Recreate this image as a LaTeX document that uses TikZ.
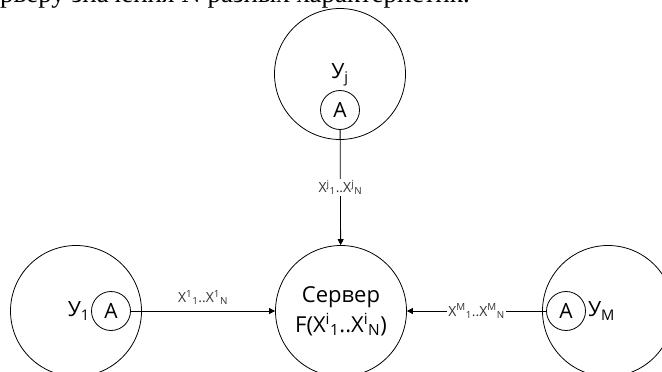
\documentclass[tikz,border=0pt]{standalone}
\usepackage{fontspec}
\setmainfont{Liberation Serif}
\newfontfamily\diagfont{Open Sans}
\usetikzlibrary{arrows.meta, positioning}

\begin{document}
\begin{tikzpicture}[x=1pt, y=-1pt,
    usercircle/.style={circle, draw, line width=0.8pt, minimum size=131pt, inner sep=0pt},
    agent/.style={circle, draw, line width=0.8pt, minimum size=39pt, inner sep=0pt, font=\diagfont\fontsize{21}{24}\selectfont},
    caption/.style={inner sep=0pt, font=\diagfont\fontsize{21}{24}\selectfont},
    flowlabel/.style={inner sep=1pt, text=black!80, font=\diagfont\fontsize{14}{16}\selectfont},
    arrow/.style={-{Triangle[length=6pt, width=6pt]}, line width=0.8pt}
]
\useasboundingbox (0,0) rectangle (662,372);
\clip (0,0) rectangle (662,372);

\node[anchor=base west, inner sep=0pt, font=\fontsize{27}{30}\selectfont] (heading) at (0,2) {рверу значения N разных характеристик.};

\node[usercircle] (userj) at (340,74) {};
\node[agent] (aj) at (340,110) {A};
\node[caption, above=4pt of aj] (labj) {У\textsubscript{j}};

\node[usercircle] (user1) at (76,311) {};
\node[agent] (a1) at (111,311) {A};
\node[caption, left=1pt of a1] (lab1) {У\textsubscript{1}};

\node[usercircle] (userm) at (608,311) {};
\node[agent] (am) at (566,311) {A};
\node[caption, right=2pt of am] (labm) {У\textsubscript{M}};

\node[usercircle, align=center, font=\diagfont\fontsize{22}{30}\selectfont] (server) at (341,311) {Сервер\\F(X\textsuperscript{i}\textsubscript{1}..X\textsuperscript{i}\textsubscript{N})};

\draw[arrow] (aj) -- (server) node[midway, fill=white, flowlabel] {X\textsuperscript{j}\textsubscript{1}..X\textsuperscript{j}\textsubscript{N}};
\draw[arrow] (a1) -- (server) node[midway, above=5pt, flowlabel] {X\textsuperscript{1}\textsubscript{1}..X\textsuperscript{1}\textsubscript{N}};
\draw[arrow] (am) -- (server) node[midway, fill=white, flowlabel] {X\textsuperscript{M}\textsubscript{1}..X\textsuperscript{M}\textsubscript{N}};
\end{tikzpicture}
\end{document}
